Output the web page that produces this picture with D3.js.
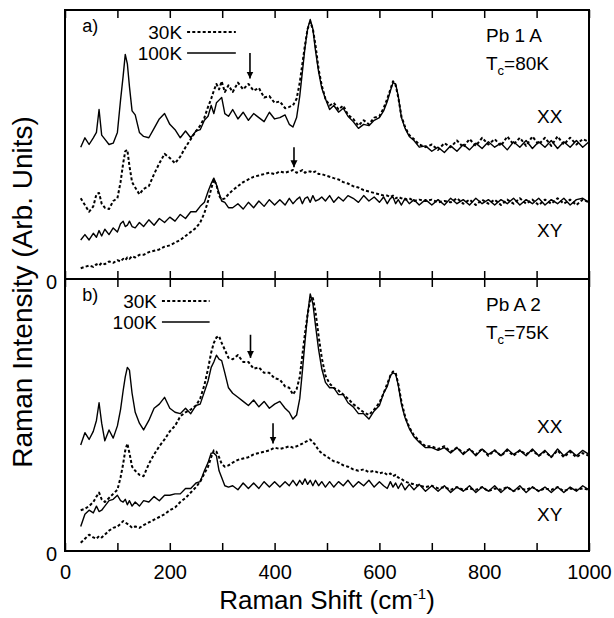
<!DOCTYPE html>
<html><head><meta charset="utf-8">
<script src="https://cdn.jsdelivr.net/npm/d3@7"></script>
<style>
body{margin:0;background:#fff;}
text{font-family:"Liberation Sans",Arial,Helvetica,sans-serif;fill:#000;}
</style></head>
<body><svg id="c" width="614" height="618"></svg>
<script>
// Raman shift grid (cm^-1)
const shift = [30,38,46,54,60,65,70,76,84,92,100,106,111,115,119,123,128,134,142,150,160,170,180,190,200,210,220,230,240,250,258,266,273,279,284,289,294,299,305,312,320,330,340,350,360,370,380,390,400,410,420,428,435,442,448,453,458,463,468,473,478,484,490,497,505,513,522,531,540,550,560,570,580,590,600,608,615,621,626,631,636,642,649,657,666,676,688,700,712,724,736,748,760,772,784,796,808,820,832,844,856,868,880,892,904,916,928,940,952,964,976,988,1000];

// Panel a) Pb 1 A
const aXX100 = [.49,.525,.50,.525,.545,.63,.535,.52,.50,.505,
 .545,.665,.755,.835,.80,.715,.625,.61,.545,.53,
 .525,.56,.595,.615,.575,.555,.525,.55,.525,.55,
 .555,.59,.605,.645,.615,.655,.665,.675,.615,.605,
 .63,.595,.62,.59,.615,.60,.585,.62,.595,.60,
 .61,.575,.565,.60,.68,.77,.86,.93,.965,.93,
 .85,.77,.71,.67,.63,.645,.62,.635,.605,.585,
 .56,.575,.57,.59,.60,.625,.66,.70,.73,.725,
 .68,.60,.56,.53,.515,.49,.495,.475,.49,.47,
 .495,.475,.50,.48,.505,.485,.51,.49,.505,.48,
 .51,.49,.515,.485,.51,.49,.515,.485,.51,.49,
 .515,.49,.51];
const aXX30 = [.30,.275,.25,.27,.315,.32,.28,.265,.26,.29,
 .30,.36,.43,.475,.48,.42,.36,.34,.315,.335,
 .345,.39,.43,.465,.45,.43,.455,.49,.52,.55,
 .57,.60,.64,.67,.70,.725,.705,.735,.695,.72,
 .695,.73,.705,.725,.70,.71,.675,.68,.655,.66,
 .635,.64,.645,.67,.73,.80,.87,.93,.955,.93,
 .87,.78,.72,.67,.645,.655,.63,.645,.61,.595,
 .57,.59,.575,.60,.605,.635,.67,.705,.735,.72,
 .675,.605,.565,.535,.52,.50,.49,.50,.48,.505,
 .49,.515,.49,.52,.495,.525,.50,.52,.495,.53,
 .50,.525,.495,.53,.50,.525,.495,.53,.50,.525,
 .50,.52,.51];
const aXY100 = [.145,.165,.145,.17,.155,.18,.16,.185,.165,.19,
 .175,.205,.215,.195,.20,.215,.195,.19,.21,.195,
 .22,.20,.225,.21,.23,.215,.24,.225,.25,.25,
 .27,.285,.325,.355,.375,.35,.32,.29,.285,.265,
 .265,.28,.26,.285,.265,.29,.27,.295,.275,.295,
 .275,.30,.28,.295,.305,.28,.30,.305,.285,.31,
 .29,.295,.305,.29,.31,.285,.305,.29,.31,.30,
 .285,.31,.29,.305,.285,.305,.28,.30,.305,.28,
 .295,.275,.30,.28,.295,.275,.295,.275,.295,.275,
 .30,.28,.295,.275,.30,.28,.295,.275,.295,.28,
 .30,.275,.295,.28,.30,.275,.295,.28,.30,.275,
 .295,.30,.285];
const aXY30 = [.04,.045,.05,.045,.055,.05,.06,.055,.065,.06,
 .07,.065,.075,.07,.08,.075,.085,.08,.09,.09,
 .10,.105,.11,.12,.125,.135,.145,.16,.175,.19,
 .21,.245,.29,.335,.37,.35,.31,.295,.30,.315,
 .33,.345,.36,.37,.38,.385,.39,.395,.39,.40,
 .395,.40,.405,.395,.40,.405,.395,.40,.40,.395,
 .40,.39,.39,.385,.38,.375,.37,.36,.355,.345,
 .34,.33,.325,.32,.315,.31,.31,.305,.31,.30,
 .305,.30,.295,.30,.29,.295,.29,.295,.285,.29,
 .285,.30,.28,.295,.275,.295,.28,.295,.275,.295,
 .28,.30,.28,.295,.275,.295,.28,.30,.28,.295,
 .275,.295,.285];

// Panel b) Pb A 2
const bXX100 = [.39,.435,.41,.44,.48,.545,.47,.405,.445,.415,
 .46,.52,.59,.64,.675,.665,.58,.51,.47,.445,
 .48,.525,.54,.565,.525,.51,.505,.525,.505,.535,
 .54,.585,.625,.675,.695,.72,.705,.70,.655,.60,
 .58,.565,.55,.535,.555,.53,.55,.525,.54,.55,
 .525,.51,.485,.50,.56,.66,.77,.87,.945,.91,
 .83,.74,.67,.62,.60,.60,.575,.575,.545,.53,
 .505,.505,.485,.515,.535,.58,.605,.645,.655,.65,
 .61,.54,.49,.45,.42,.40,.38,.38,.37,.38,
 .36,.38,.355,.375,.35,.375,.355,.37,.35,.375,
 .355,.37,.35,.375,.35,.37,.345,.375,.35,.37,
 .35,.37,.355];
const bXX30 = [.15,.155,.165,.18,.20,.215,.19,.18,.195,.21,
 .225,.27,.32,.37,.395,.36,.31,.295,.28,.275,
 .32,.355,.385,.41,.44,.46,.495,.51,.52,.535,
 .56,.61,.67,.73,.765,.785,.79,.765,.74,.71,
 .705,.72,.695,.695,.67,.675,.655,.655,.635,.63,
 .605,.60,.575,.595,.64,.72,.80,.87,.925,.93,
 .88,.79,.71,.645,.615,.60,.59,.575,.56,.54,
 .525,.51,.50,.52,.545,.58,.615,.645,.66,.655,
 .615,.55,.495,.455,.425,.405,.385,.385,.375,.385,
 .365,.38,.36,.375,.355,.375,.35,.37,.35,.37,
 .35,.37,.355,.37,.35,.365,.345,.37,.345,.365,
 .345,.36,.35];
const bXY100 = [.09,.135,.15,.14,.165,.145,.15,.165,.185,.19,
 .205,.185,.18,.19,.17,.185,.165,.18,.165,.185,
 .18,.20,.185,.205,.205,.21,.21,.23,.23,.25,
 .255,.295,.325,.36,.36,.35,.295,.27,.24,.235,
 .24,.225,.25,.23,.25,.23,.255,.235,.255,.235,
 .255,.24,.26,.24,.26,.245,.265,.245,.26,.24,
 .26,.24,.255,.235,.255,.235,.255,.24,.26,.235,
 .255,.24,.26,.235,.255,.24,.23,.255,.235,.25,
 .23,.25,.225,.245,.225,.245,.22,.24,.22,.24,
 .215,.235,.22,.24,.215,.235,.22,.24,.215,.235,
 .22,.24,.215,.235,.22,.235,.215,.235,.215,.235,
 .22,.24,.225];
const bXY30 = [.03,.045,.06,.05,.045,.055,.05,.06,.075,.085,
 .09,.10,.11,.105,.10,.095,.085,.09,.085,.095,
 .105,.115,.125,.135,.15,.16,.18,.195,.215,.235,
 .255,.285,.31,.345,.37,.365,.345,.32,.31,.315,
 .325,.335,.34,.345,.355,.36,.365,.37,.38,.375,
 .38,.385,.38,.385,.39,.395,.40,.405,.41,.40,
 .39,.37,.36,.35,.34,.33,.325,.315,.31,.30,
 .295,.30,.29,.295,.285,.29,.28,.285,.275,.28,
 .27,.265,.255,.25,.245,.24,.235,.24,.23,.235,
 .225,.235,.225,.23,.225,.235,.22,.23,.225,.235,
 .22,.23,.225,.235,.22,.23,.225,.235,.22,.23,
 .225,.23,.225];

// arrows: [shift, from, to]
const arrowsA = [[353,0.84,0.745],[437,0.49,0.415]];
const arrowsB = [[354,0.795,0.71],[397,0.47,0.395]];

const xTicks = [0,100,200,300,400,500,600,700,800,900,1000];
const xLabels = [0,200,400,600,800,1000];
const panelNames = ["a)","b)"];
const samples = ["Pb 1 A","Pb A 2"];
const tcs = ["80K","75K"];
const tempLabels = ["30K","100K"];
const polLabels = ["XX","XY"];

const svg = d3.select("#c");
const L=65, R=589;
const x = d3.scaleLinear().domain([0,1000]).range([L,R]);
const panels = [
  {top:10, bot:279, series:[[aXX100,false],[aXX30,true],[aXY100,false],[aXY30,true]], arrows:arrowsA},
  {top:279, bot:551, series:[[bXX100,false],[bXX30,true],[bXY100,false],[bXY30,true]], arrows:arrowsB}
];

svg.append("defs").append("marker").attr("id","ah").attr("viewBox","0 0 10 10")
  .attr("refX",10).attr("refY",5).attr("markerWidth",7).attr("markerHeight",8)
  .attr("markerUnits","userSpaceOnUse").attr("orient","auto")
  .append("path").attr("d","M0,0L10,5L0,10Z").attr("fill","#000");

panels.forEach((p,i)=>{
  const y = d3.scaleLinear().domain([0,1]).range([p.bot,p.top]);
  const g = svg.append("g");
  const line = d3.line().x((d,j)=>x(shift[j])).y(d=>y(d));
  p.series.forEach(([vals,dash])=>{
    g.append("path").attr("d",line(vals)).attr("fill","none").attr("stroke","#000")
      .attr("stroke-width",dash?2:1.4).attr("stroke-dasharray",dash?"3,2.2":null)
      .attr("stroke-linejoin","round");
  });
  p.arrows.forEach(a=>{
    g.append("line").attr("x1",x(a[0])).attr("x2",x(a[0])).attr("y1",y(a[1])).attr("y2",y(a[2]))
      .attr("stroke","#000").attr("stroke-width",1.6).attr("marker-end","url(#ah)");
  });
  g.append("rect").attr("x",L).attr("y",p.top).attr("width",R-L).attr("height",p.bot-p.top)
    .attr("fill","none").attr("stroke","#000").attr("stroke-width",2);
  const axB = d3.axisBottom(x).tickValues(xTicks).tickSizeInner(-8).tickSizeOuter(0)
    .tickPadding(14).tickFormat(d=> (i===1 && xLabels.includes(d)) ? d : "");
  const gb = svg.append("g").attr("transform",`translate(0,${p.bot})`).call(axB);
  const axT = d3.axisTop(x).tickValues(xTicks).tickSizeInner(-8).tickSizeOuter(0).tickFormat("");
  const gt = svg.append("g").attr("transform",`translate(0,${p.top})`).call(axT);
  [gb,gt].forEach(ax=>{ax.select(".domain").remove(); ax.selectAll("line").attr("stroke","#000").attr("stroke-width",1.5);
    ax.selectAll("text").attr("font-size",20).attr("font-family","Liberation Sans, Arial, sans-serif");});
  svg.append("text").attr("x",57).attr("y",p.bot+10).attr("text-anchor","end").attr("font-size",20).text("0");
  svg.append("text").attr("x",x(33)).attr("y",p.top+22).attr("font-size",18).text(panelNames[i]);
  const lx0 = i===0 ? 233 : 185, lx1 = i===0 ? 326 : 276;
  tempLabels.forEach((t,k)=>{
    const yy = p.top + 22 + k*21;
    svg.append("text").attr("x",x(lx0)-5).attr("y",yy+7).attr("text-anchor","end").attr("font-size",19).text(t);
    svg.append("line").attr("x1",x(lx0)).attr("x2",x(lx1)).attr("y1",yy).attr("y2",yy)
      .attr("stroke","#000").attr("stroke-width",k===0?2:1.3).attr("stroke-dasharray",k===0?"3,2.2":null);
  });
  svg.append("text").attr("x",486).attr("y",p.top+32).attr("font-size",19).text(samples[i]);
  const tc = svg.append("text").attr("x",486).attr("y",p.top+60).attr("font-size",19);
  tc.append("tspan").text("T");
  tc.append("tspan").attr("font-size",13).attr("dy",5).text("c");
  tc.append("tspan").attr("dy",-5).text("="+tcs[i]);
  const xxY = i===0 ? 123 : 433, xyY = i===0 ? 237 : 521;
  svg.append("text").attr("x",537).attr("y",xxY).attr("font-size",19).text(polLabels[0]);
  svg.append("text").attr("x",537).attr("y",xyY).attr("font-size",19).text(polLabels[1]);
});

const xt = svg.append("text").attr("x",327).attr("y",609).attr("text-anchor","middle").attr("font-size",26);
xt.append("tspan").text("Raman Shift (cm");
xt.append("tspan").attr("font-size",15).attr("dy",-10).text("-1");
xt.append("tspan").attr("dy",10).text(")");
svg.append("text").attr("transform","translate(32,292) rotate(-90)").attr("text-anchor","middle")
  .attr("font-size",28).text("Raman Intensity (Arb. Units)");
</script></body></html>
